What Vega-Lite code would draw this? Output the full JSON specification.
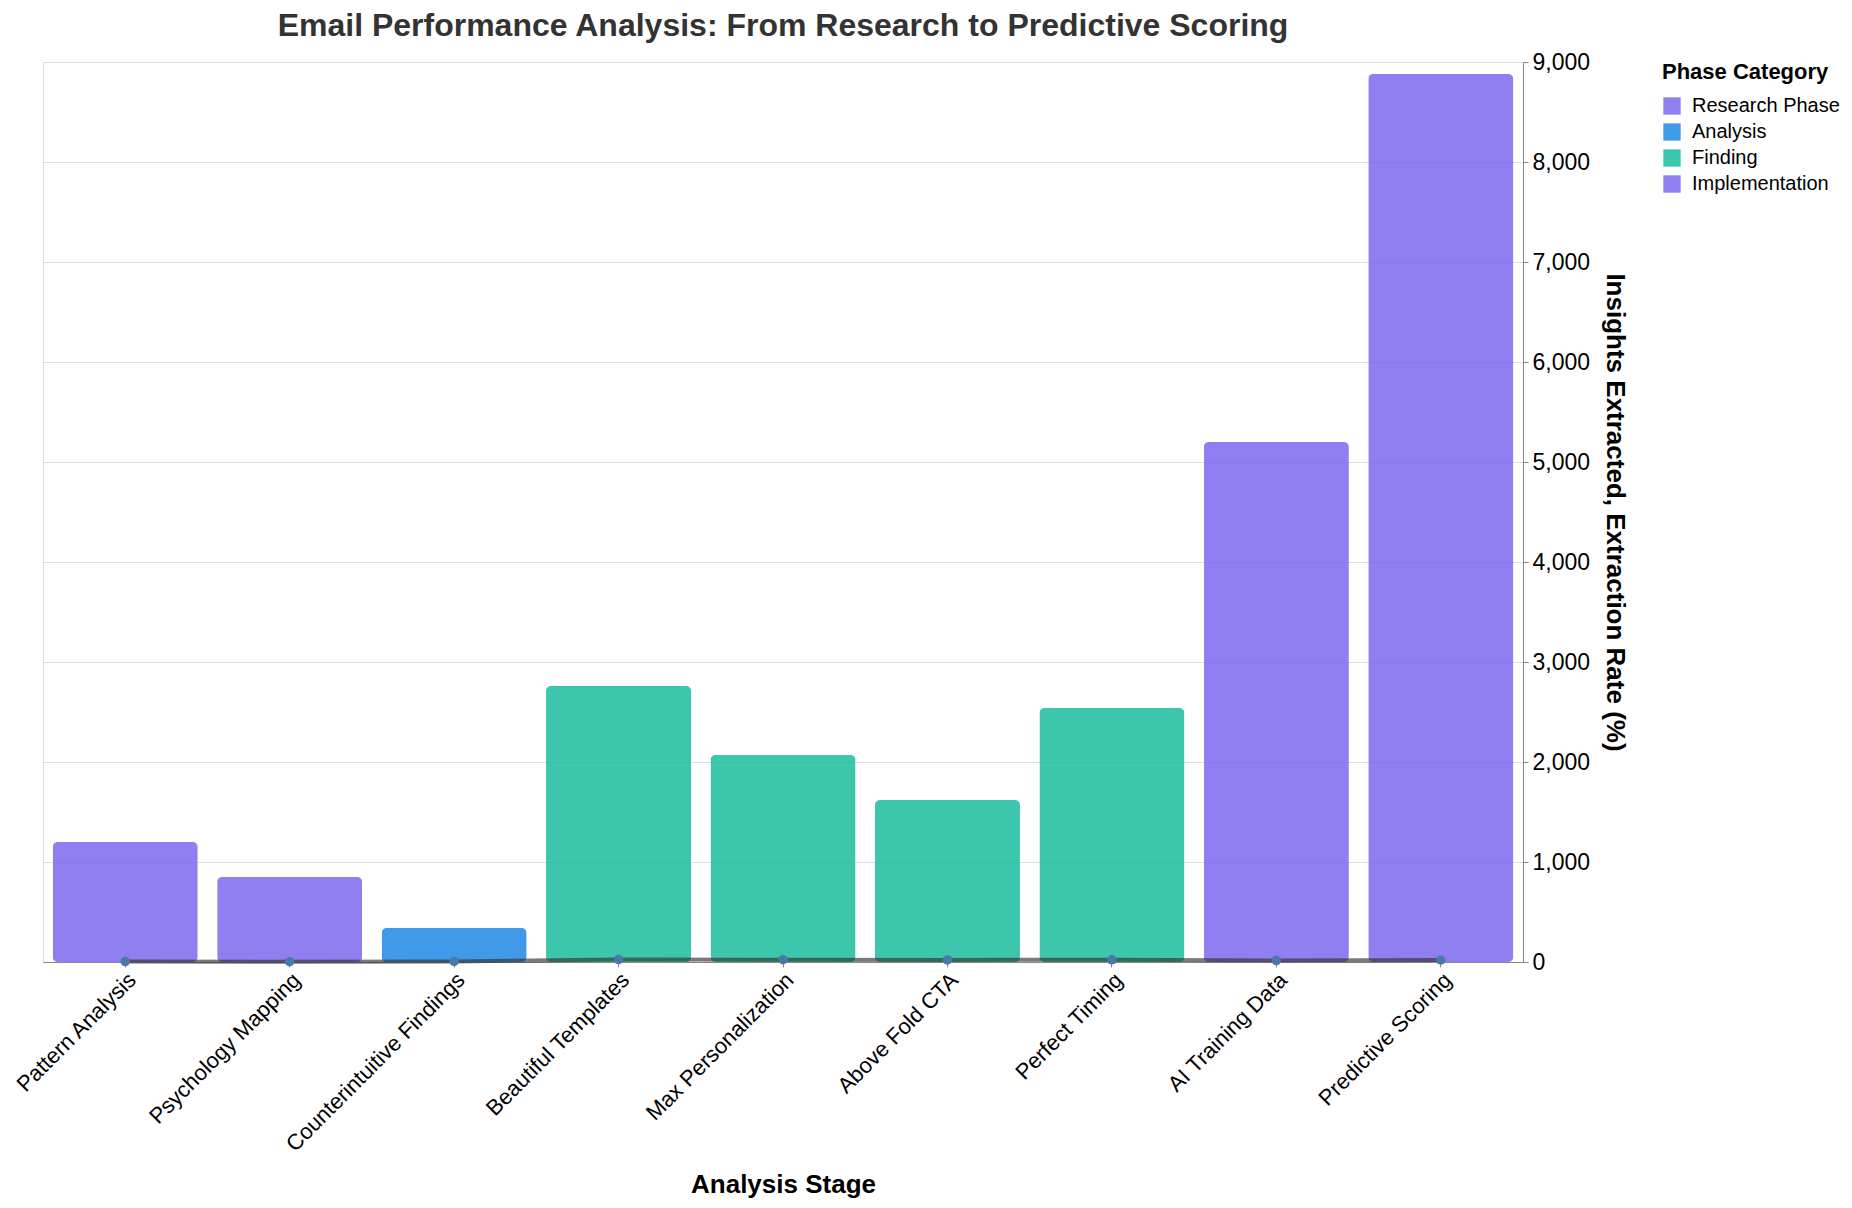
{
  "$schema": "https://vega.github.io/schema/vega-lite/v6.json",
  "title": {"text": "Email Performance Analysis: From Research to Predictive Scoring", "fontSize": 32, "color": "#333333", "offset": 8},
  "autosize": {"type": "none"},
  "padding": {"left": 43, "top": 62, "right": 329, "bottom": 246},
  "width": 1480,
  "height": 900,
  "data": {
    "values": [
      {"stage": "Pattern Analysis", "phase": "Research Phase", "insights": 1200, "rate": 4},
      {"stage": "Psychology Mapping", "phase": "Research Phase", "insights": 850, "rate": 3},
      {"stage": "Counterintuitive Findings", "phase": "Analysis", "insights": 340, "rate": 6},
      {"stage": "Beautiful Templates", "phase": "Finding", "insights": 2760, "rate": 24},
      {"stage": "Max Personalization", "phase": "Finding", "insights": 2070, "rate": 23},
      {"stage": "Above Fold CTA", "phase": "Finding", "insights": 1620, "rate": 21},
      {"stage": "Perfect Timing", "phase": "Finding", "insights": 2540, "rate": 22},
      {"stage": "AI Training Data", "phase": "Implementation", "insights": 5200, "rate": 14},
      {"stage": "Predictive Scoring", "phase": "Implementation", "insights": 8880, "rate": 20}
    ]
  },
  "encoding": {
    "x": {
      "field": "stage",
      "type": "nominal",
      "sort": null,
      "title": "Analysis Stage",
      "axis": {"labelAngle": -45, "labelFontSize": 22, "labelLimit": 0, "titleFontSize": 26, "titlePadding": 16, "domainColor": "#888888", "tickColor": "#888888"}
    }
  },
  "layer": [
    {
      "mark": {"type": "bar", "cornerRadius": 5, "opacity": 0.85},
      "encoding": {
        "y": {
          "field": "insights",
          "type": "quantitative",
          "title": "Insights Extracted, Extraction Rate (%)",
          "axis": {"orient": "right", "tickCount": 9, "labelFontSize": 23, "labelPadding": 4, "titleFontSize": 26, "titlePadding": 12, "domainColor": "#888888", "tickColor": "#888888"}
        },
        "color": {
          "field": "phase",
          "type": "nominal",
          "title": "Phase Category",
          "scale": {
            "domain": ["Research Phase", "Analysis", "Finding", "Implementation"],
            "range": ["#7B68EE", "#1E88E5", "#1ABC9C", "#7B68EE"]
          }
        }
      }
    },
    {
      "mark": {"type": "line", "color": "#333333", "strokeWidth": 4, "opacity": 0.65},
      "encoding": {
        "y": {"field": "rate", "type": "quantitative", "title": "Insights Extracted, Extraction Rate (%)"}
      }
    },
    {
      "mark": {"type": "point", "filled": true, "color": "#4C78A8", "size": 90, "opacity": 1},
      "encoding": {
        "y": {"field": "rate", "type": "quantitative", "title": "Insights Extracted, Extraction Rate (%)"}
      }
    }
  ],
  "config": {
    "font": "Liberation Sans",
    "scale": {"bandPaddingInner": 0.118},
    "axis": {"labelColor": "#000000", "titleColor": "#000000", "gridColor": "#dddddd"},
    "axisX": {"grid": false},
    "legend": {"offset": 34, "titleFontSize": 22, "titlePadding": 12, "labelFontSize": 20, "labelOffset": 10, "rowPadding": 6, "symbolType": "square", "symbolSize": 300, "titleColor": "#000000", "labelColor": "#000000"}
  }
}
